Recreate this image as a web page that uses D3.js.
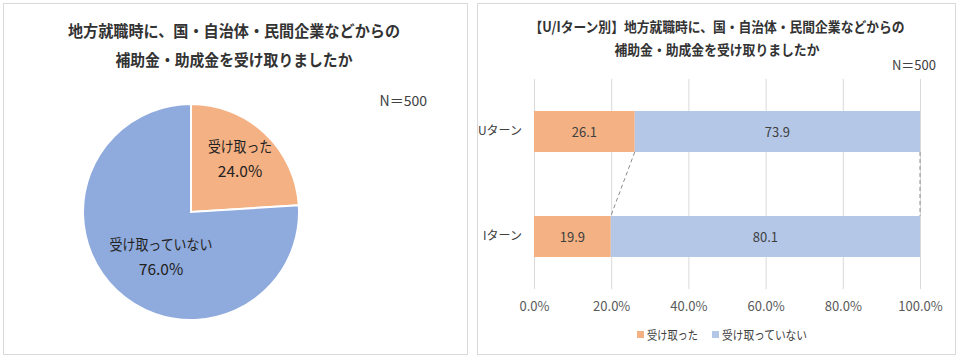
<!DOCTYPE html>
<html><head><meta charset="utf-8">
<script src="https://cdn.jsdelivr.net/npm/d3@7"></script>
<style>
body{margin:0;background:#fff;}
svg{display:block;font-family:"Noto Sans CJK JP","Noto Sans",sans-serif;}
</style></head>
<body>
<svg id="c" width="964" height="360"></svg>
<script>
// ---- data ----
const pieLabels = ["受け取った", "受け取っていない"];
const pieValues = [24.0, 76.0];
const barCategories = ["Uターン", "Iターン"];
const seriesNames = ["受け取った", "受け取っていない"];
const receivedValues = [26.1, 19.9];
const notReceivedValues = [73.9, 80.1];
const xTickValues = [0, 20, 40, 60, 80, 100];
const leftTitle = ["地方就職時に、国・自治体・民間企業などからの", "補助金・助成金を受け取りましたか"];
const rightTitle = ["【U/Iターン別】地方就職時に、国・自治体・民間企業などからの", "補助金・助成金を受け取りましたか"];
const nLabel = "N＝500";

const colors = ["#F4B183", "#8FAADC"];
const barColors = ["#F4B183", "#B4C7E7"];

const svg = d3.select("#c");

// panels
svg.append("rect").attr("x",3.5).attr("y",3.5).attr("width",464).attr("height",351)
  .attr("fill","#fff").attr("stroke","#d9d9d9");
svg.append("rect").attr("x",477.5).attr("y",3.5).attr("width",478).attr("height",351)
  .attr("fill","#fff").attr("stroke","#d9d9d9");

// ---- left pie ----
const leftTitleLen = [332, 237];
leftTitle.forEach((t,i)=>{
  svg.append("text").attr("x",234).attr("y",37+i*29).attr("text-anchor","middle")
    .attr("font-size",16).attr("font-weight","bold").attr("fill","#333")
    .attr("textLength",leftTitleLen[i]).attr("lengthAdjust","spacingAndGlyphs").text(t);
});
svg.append("text").attr("x",427).attr("y",106).attr("text-anchor","end")
  .attr("font-size",14).attr("fill","#404040").text(nLabel);

const cx = 191, cy = 212, r = 108;
const pie = d3.pie().sort(null).value(d=>d)(pieValues);
const arc = d3.arc().innerRadius(0).outerRadius(r);
const pg = svg.append("g").attr("transform",`translate(${cx},${cy})`);
pg.selectAll("path").data(pie).join("path")
  .attr("d",arc).attr("fill",(d,i)=>colors[i]).attr("stroke","#fff").attr("stroke-width",2);
const labelPos = [[49,-60],[-30,38]];
const labelLen = [64, 103];
pie.forEach((d,i)=>{
  const [lx,ly] = labelPos[i];
  pg.append("text").attr("x",lx).attr("y",ly).attr("text-anchor","middle")
    .attr("font-size",15).attr("fill","#222")
    .attr("textLength",labelLen[i]).attr("lengthAdjust","spacingAndGlyphs").text(pieLabels[i]);
  pg.append("text").attr("x",lx).attr("y",ly+25).attr("text-anchor","middle")
    .attr("font-size",15.5).attr("fill","#222").text(d3.format(".1f")(pieValues[i])+"%");
});

// ---- right bar ----
const rightTitleLen = [375, 205];
rightTitle.forEach((t,i)=>{
  svg.append("text").attr("x",717).attr("y",32+i*23).attr("text-anchor","middle")
    .attr("font-size",14).attr("font-weight","bold").attr("fill","#333")
    .attr("textLength",rightTitleLen[i]).attr("lengthAdjust","spacingAndGlyphs").text(t);
});
svg.append("text").attr("x",936).attr("y",70).attr("text-anchor","end")
  .attr("font-size",13).attr("fill","#404040").text(nLabel);

const x = d3.scaleLinear().domain([0,100]).range([534,920]);
const y = d3.scaleBand().domain(barCategories).range([79,289]).paddingInner(0.61).paddingOuter(0.305);

// grid
svg.append("g").selectAll("line").data(xTickValues).join("line")
  .attr("x1",d=>x(d)+0.5).attr("x2",d=>x(d)+0.5).attr("y1",79).attr("y2",289)
  .attr("stroke","#d9d9d9").attr("stroke-width",1);

// x axis
const xAxis = d3.axisBottom(x).tickValues(xTickValues).tickFormat(d=>d3.format(".1f")(d)+"%").tickSize(0).tickPadding(0);
const xa = svg.append("g").attr("transform","translate(0,302)").call(xAxis);
xa.select(".domain").remove();
xa.selectAll("text").attr("font-size",13).attr("fill","#595959").attr("font-family","'Noto Sans CJK JP',sans-serif");

// y axis
const yAxis = d3.axisLeft(y).tickSize(0).tickPadding(12);
const ya = svg.append("g").attr("transform",`translate(${x(0)},0)`).call(yAxis);
ya.select(".domain").remove();
ya.selectAll("text").attr("font-size",12).attr("fill","#404040").attr("font-family","'Noto Sans CJK JP',sans-serif");

// stacked
const rows = barCategories.map((c,i)=>({cat:c, a:receivedValues[i], b:notReceivedValues[i]}));
const stack = d3.stack().keys(["a","b"])(rows);
const bg = svg.append("g");
stack.forEach((s,si)=>{
  bg.selectAll(null).data(s).join("rect")
    .attr("x",d=>x(d[0])).attr("width",d=>x(d[1])-x(d[0]))
    .attr("y",d=>y(d.data.cat)).attr("height",y.bandwidth())
    .attr("fill",barColors[si]);
  bg.selectAll(null).data(s).join("text")
    .attr("x",d=>(x(d[0])+x(d[1]))/2).attr("y",d=>y(d.data.cat)+y.bandwidth()/2+5)
    .attr("text-anchor","middle").attr("font-size",13).attr("fill","#404040")
    .text(d=>d3.format(".1f")(d[1]-d[0]));
});

// series lines (connectors)
stack.forEach(s=>{
  svg.append("line")
    .attr("x1",x(s[0][1])).attr("y1",y(barCategories[0])+y.bandwidth())
    .attr("x2",x(s[1][1])).attr("y2",y(barCategories[1]))
    .attr("stroke","#8c8c8c").attr("stroke-width",1).attr("stroke-dasharray","4,3");
});

// legend
const legX = [637,712];
const legLen = [51, 85];
seriesNames.forEach((n,i)=>{
  svg.append("rect").attr("x",legX[i]).attr("y",331).attr("width",7).attr("height",7).attr("fill",barColors[i]);
  svg.append("text").attr("x",legX[i]+10).attr("y",339.5).attr("font-size",12.5).attr("fill","#404040")
    .attr("textLength",legLen[i]).attr("lengthAdjust","spacingAndGlyphs").text(n);
});
</script>
</body></html>
